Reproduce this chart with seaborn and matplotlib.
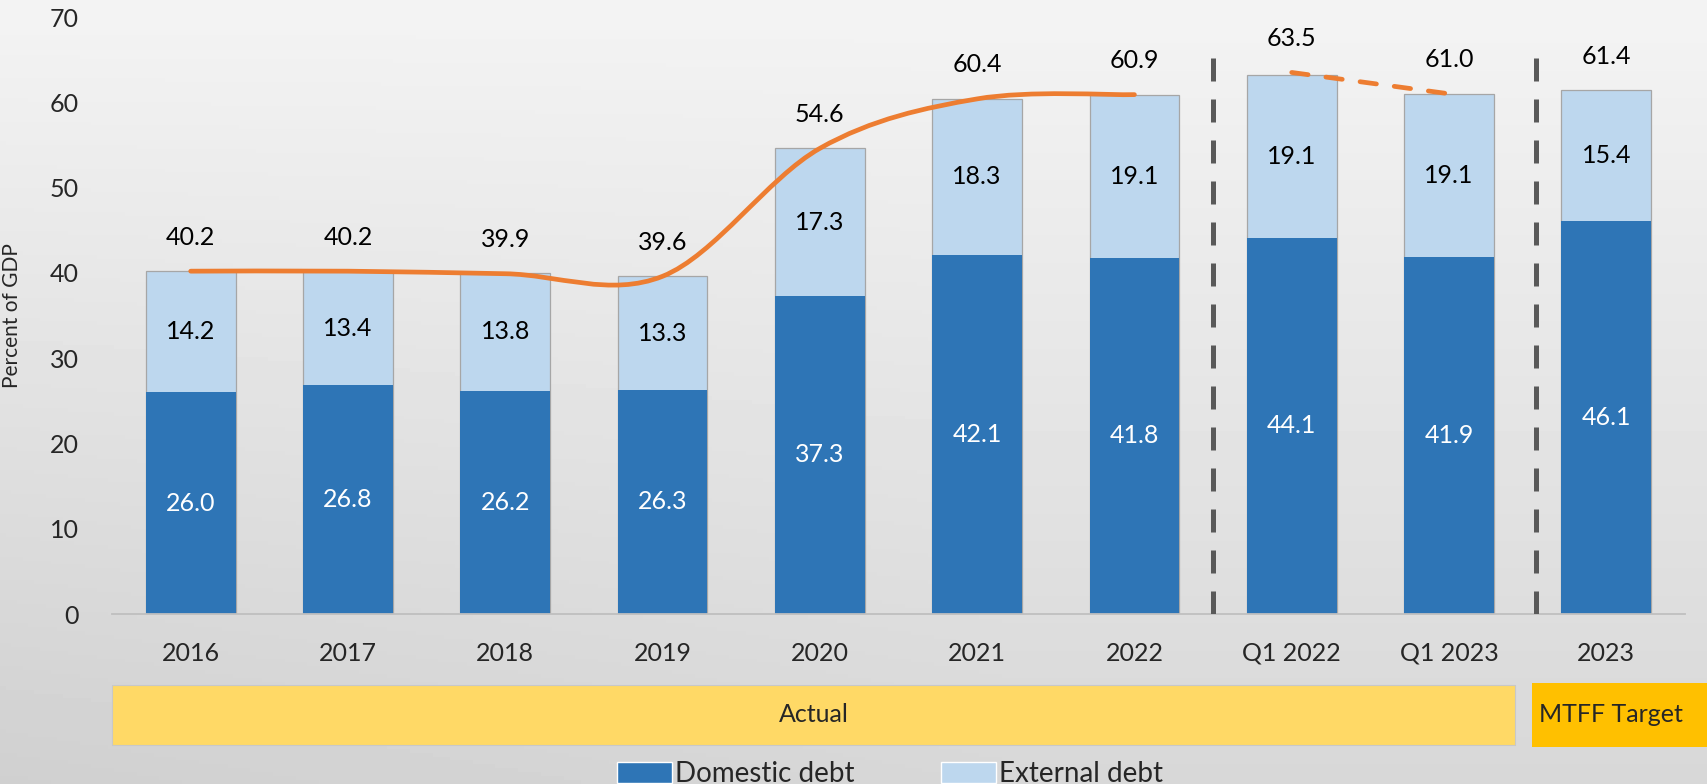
import numpy as np
import pandas as pd
import seaborn as sns
import matplotlib.pyplot as plt
from matplotlib.path import Path
from matplotlib.patches import PathPatch, Rectangle, Patch
from matplotlib import transforms

# data (percent of GDP)
periods = ["2016", "2017", "2018", "2019", "2020", "2021", "2022",
           "Q1 2022", "Q1 2023", "2023"]
domestic = [26.0, 26.8, 26.2, 26.3, 37.3, 42.1, 41.8, 44.1, 41.9, 46.1]
external = [14.2, 13.4, 13.8, 13.3, 17.3, 18.3, 19.1, 19.1, 19.1, 15.4]
totals = [40.2, 40.2, 39.9, 39.6, 54.6, 60.4, 60.9, 63.5, 61.0, 61.4]
n_annual = 7          # 2016-2022 joined by the solid smooth line
quarter_idx = [7, 8]  # Q1 2022 -> Q1 2023 dashed line
dividers = [6.5, 8.55]

DOM = "#2E75B6"
EXT = "#BDD7EE"
ORANGE = "#ED7D31"

df = pd.DataFrame({"period": periods, "domestic": domestic, "external": external})
df["stack"] = df["domestic"] + df["external"]

sns.set_theme(style="white")
plt.rcParams["font.family"] = ["Lato", "DejaVu Sans"]

fig = plt.figure(figsize=(17.08, 7.84), dpi=100)

# light grey backdrop
bg = fig.add_axes([0, 0, 1, 1], zorder=-1)
yy, xx = np.mgrid[0:1:200j, 0:1:300j]
grad = 0.955 - 0.11 * yy - 0.05 * np.clip(0.6 - xx, 0, 1) * yy
bg.imshow(grad, cmap="gray", vmin=0, vmax=1, aspect="auto", extent=[0, 1, 0, 1])
bg.axis("off")

ax = fig.add_axes([0.0656, 0.2168, 0.9209, 0.7615])
ax.set_facecolor("none")

sns.barplot(data=df, x="period", y="stack", order=periods, color=EXT,
            saturation=1, width=0.57, edgecolor="#A6A6A6", linewidth=0.9,
            ax=ax, zorder=2)
sns.barplot(data=df, x="period", y="domestic", order=periods, color=DOM,
            saturation=1, width=0.57, linewidth=0, ax=ax, zorder=2)

# segment labels
for i, (d, e) in enumerate(zip(domestic, external)):
    ax.text(i, d / 2, f"{d:.1f}", ha="center", va="center", color="white", fontsize=18)
    ax.text(i, d + e / 2, f"{e:.1f}", ha="center", va="center", color="black", fontsize=18)
for i, t in enumerate(totals):
    ax.text(i, t + 4.0, f"{t:.1f}", ha="center", va="center", color="black", fontsize=18)

# smoothed total line (Excel-style smoothing)
def smooth_path(xs, ys):
    pts = np.column_stack([xs, ys])
    verts = [pts[0]]
    codes = [Path.MOVETO]
    for i in range(len(pts) - 1):
        p0 = pts[i - 1] if i > 0 else pts[i]
        p1, p2 = pts[i], pts[i + 1]
        p3 = pts[i + 2] if i + 2 < len(pts) else p2
        verts += [p1 + (p2 - p0) / 6, p2 - (p3 - p1) / 6, p2]
        codes += [Path.CURVE4] * 3
    return Path(verts, codes)

line_x = np.arange(n_annual)
ax.add_patch(PathPatch(smooth_path(line_x, totals[:n_annual]), fill=False,
                       edgecolor=ORANGE, lw=3.4, capstyle="round", zorder=4))
ax.plot(quarter_idx, [totals[i] for i in quarter_idx], color=ORANGE, lw=3.4,
        ls=(0, (3.5, 3.8)), dash_capstyle="round", zorder=4)

# dashed separators
ax.vlines(dividers, 0, 67, colors="#595959", lw=3.6, linestyles=(0, (4.6, 3.6)), zorder=3)

ax.set_ylim(0, 70)
ax.set_xlim(-0.5, 9.5)
ax.set_yticks(range(0, 71, 10))
ax.tick_params(axis="both", length=0, labelsize=18)
ax.tick_params(axis="y", pad=24)
ax.tick_params(axis="x", pad=20)
ax.set_xlabel("")
ax.set_ylabel("Percent of GDP", fontsize=15)
ax.yaxis.set_label_coords(-0.057, 0.5)
sns.despine(ax=ax, left=True)
ax.spines["bottom"].set_color("#BFBFBF")
ax.spines["bottom"].set_linewidth(1.3)

# category bands under the axis
trans = transforms.blended_transform_factory(ax.transData, ax.transAxes)
ax.add_patch(Rectangle((-0.5, -0.219), 8.92, 0.100, transform=trans, clip_on=False,
                       facecolor="#FFD966", edgecolor="#C8C8C8", lw=0.8))
ax.add_patch(Rectangle((8.53, -0.223), 1.4, 0.107, transform=trans, clip_on=False,
                       facecolor="#FFC000", edgecolor="none"))
ax.text(3.96, -0.169, "Actual", transform=trans, ha="center", va="center", fontsize=18)
ax.text(9.03, -0.169, "MTFF Target", transform=trans, ha="center", va="center", fontsize=18)

handles = [Patch(facecolor=DOM, label="Domestic debt"),
           Patch(facecolor=EXT, label="External debt")]
fig.legend(handles=handles, loc="upper center", bbox_to_anchor=(0.521, 0.047), ncol=2,
           frameon=False, fontsize=20, handlelength=2.0, handleheight=0.8,
           handletextpad=0.1, columnspacing=3.1, borderpad=0)

fig.savefig("out.png", dpi=100, facecolor=fig.get_facecolor())
